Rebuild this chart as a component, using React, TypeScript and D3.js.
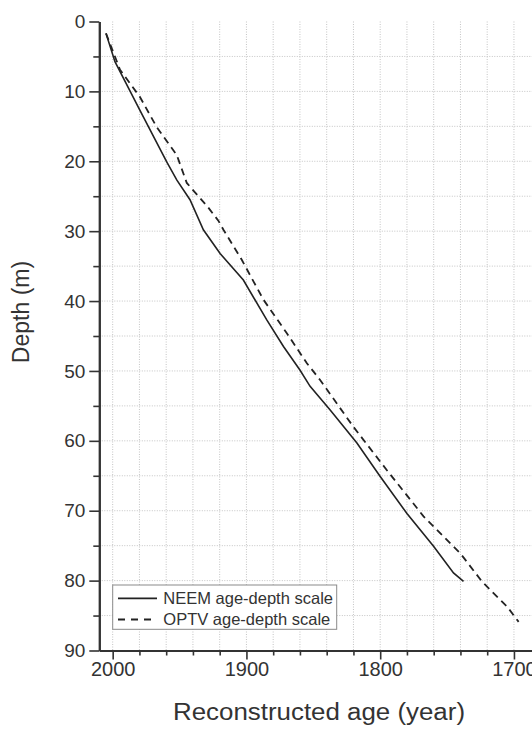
import * as d3 from 'd3';
import React, { useEffect, useRef } from 'react';

// NEEM age-depth scale (solid)
const neemAge = [2005, 1998.3, 1979.6, 1959.6, 1952, 1942.2, 1932.2, 1919.7, 1902.3, 1884.8, 1872.3, 1859.9, 1852.4, 1837.4, 1817.4, 1800, 1780, 1760.1, 1745.2, 1737.7];
const neemDepth = [1.7, 5.75, 12.7, 20.1, 22.7, 25.5, 29.8, 33.2, 37.0, 42.7, 46.5, 49.9, 52.2, 55.6, 60.3, 65.1, 70.4, 75.1, 78.9, 80.1];

// OPTV age-depth scale (dashed)
const optvAge = [2005, 1994.5, 1979.6, 1967.1, 1952.1, 1944.6, 1929, 1921, 1917.2, 1903.5, 1887.3, 1869.8, 1854.8, 1844.9, 1820, 1795, 1767.6, 1740.1, 1724, 1715.3, 1705.2, 1696.5];
const optvDepth = [1.7, 6.9, 10.8, 15.1, 19.1, 23.1, 26.5, 28.5, 29.8, 34.1, 39.8, 44.6, 48.9, 51.3, 58, 64.2, 70.8, 76.1, 80.1, 81.8, 83.7, 85.9];

const xMajor = [2000, 1900, 1800, 1700];
const xMinor = [1980, 1960, 1940, 1920, 1880, 1860, 1840, 1820, 1780, 1760, 1740, 1720];
const yMajor = [0, 10, 20, 30, 40, 50, 60, 70, 80, 90];
const yMinor = [5, 15, 25, 35, 45, 55, 65, 75, 85];

const legendLabels = ['NEEM age-depth scale', 'OPTV age-depth scale'];

const W = 532;
const H = 729;
const FONT = 'Liberation Sans, Arial, sans-serif';

export default function App() {
  const ref = useRef<SVGSVGElement>(null);

  useEffect(() => {
    const svg = d3.select(ref.current);
    svg.selectAll('*').remove();

    const x = d3.scaleLinear().domain([2010, 1680]).range([99.3, 540.7]);
    const y = d3.scaleLinear().domain([0, 90]).range([21.5, 650.5]);

    // grid
    const grid = svg.append('g');
    grid.selectAll('line.v')
      .data([...xMajor, ...xMinor])
      .enter().append('line')
      .attr('x1', d => x(d)).attr('x2', d => x(d))
      .attr('y1', y(0)).attr('y2', y(90))
      .attr('stroke', '#c4c4c4').attr('stroke-dasharray', '1,1.5');
    grid.selectAll('line.h')
      .data([...yMajor.filter(d => d > 0 && d < 90), ...yMinor])
      .enter().append('line')
      .attr('x1', x(2010)).attr('x2', W)
      .attr('y1', d => y(d)).attr('y2', d => y(d))
      .attr('stroke', '#c4c4c4').attr('stroke-dasharray', '1,1.5');

    // lines
    const line = d3.line<[number, number]>()
      .x(d => x(d[0]))
      .y(d => y(d[1]));

    svg.append('path')
      .datum(neemAge.map((a, i) => [a, neemDepth[i]] as [number, number]))
      .attr('d', line)
      .attr('fill', 'none').attr('stroke', '#222').attr('stroke-width', 1.6);

    svg.append('path')
      .datum(optvAge.map((a, i) => [a, optvDepth[i]] as [number, number]))
      .attr('d', line)
      .attr('fill', 'none').attr('stroke', '#222').attr('stroke-width', 1.8)
      .attr('stroke-dasharray', '7,5');

    // axes
    const styleAxis = (g: any) => {
      g.selectAll('line').attr('stroke', '#333').attr('stroke-width', 1.6);
      g.select('.domain').attr('stroke', '#333').attr('stroke-width', 2);
      g.selectAll('text').attr('fill', '#333').attr('font-family', FONT);
    };

    const yAx = svg.append('g').attr('transform', `translate(${x(2010)},0)`)
      .call(d3.axisLeft(y).tickValues(yMajor).tickSize(10).tickSizeOuter(0).tickPadding(4));
    styleAxis(yAx);
    yAx.selectAll('text').attr('font-size', 19);
    const yMin = svg.append('g').attr('transform', `translate(${x(2010)},0)`)
      .call(d3.axisLeft(y).tickValues(yMinor).tickSize(6).tickSizeOuter(0).tickFormat(() => ''));
    styleAxis(yMin);

    const xAx = svg.append('g').attr('transform', `translate(0,${y(90)})`)
      .call(d3.axisBottom(x).tickValues(xMajor).tickSize(9).tickSizeOuter(0).tickPadding(2).tickFormat(d3.format('d')));
    styleAxis(xAx);
    xAx.selectAll('text').attr('font-size', 20);
    const xMin = svg.append('g').attr('transform', `translate(0,${y(90)})`)
      .call(d3.axisBottom(x).tickValues(xMinor).tickSize(5).tickSizeOuter(0).tickFormat(() => ''));
    styleAxis(xMin);

    // axis titles
    svg.append('text')
      .attr('x', 319).attr('y', 720)
      .attr('text-anchor', 'middle')
      .attr('font-family', FONT).attr('font-size', 23).attr('fill', '#333')
      .attr('textLength', 292).attr('lengthAdjust', 'spacingAndGlyphs')
      .text('Reconstructed age (year)');
    svg.append('text')
      .attr('transform', 'translate(28.5,312) rotate(-90)')
      .attr('text-anchor', 'middle')
      .attr('font-family', FONT).attr('font-size', 23).attr('fill', '#333')
      .text('Depth (m)');

    // legend
    const lg = svg.append('g');
    lg.append('rect')
      .attr('x', 112.7).attr('y', 585).attr('width', 224).attr('height', 44.3)
      .attr('fill', '#fff').attr('stroke', '#8a8a8a').attr('stroke-width', 1);
    legendLabels.forEach((label, i) => {
      const cy = 598.3 + i * 21.2;
      lg.append('line')
        .attr('x1', 118).attr('x2', 157).attr('y1', cy).attr('y2', cy)
        .attr('stroke', '#222').attr('stroke-width', 1.8)
        .attr('stroke-dasharray', i === 0 ? null : '7,6');
      lg.append('text')
        .attr('x', 163.3).attr('y', cy + 5.5)
        .attr('font-family', FONT).attr('font-size', 16.5).attr('fill', '#333')
        .text(label);
    });
  }, []);

  return (
    <svg ref={ref} width={W} height={H}
      style={{ position: 'absolute', left: 0, top: 0, background: '#fff' }} />
  );
}
